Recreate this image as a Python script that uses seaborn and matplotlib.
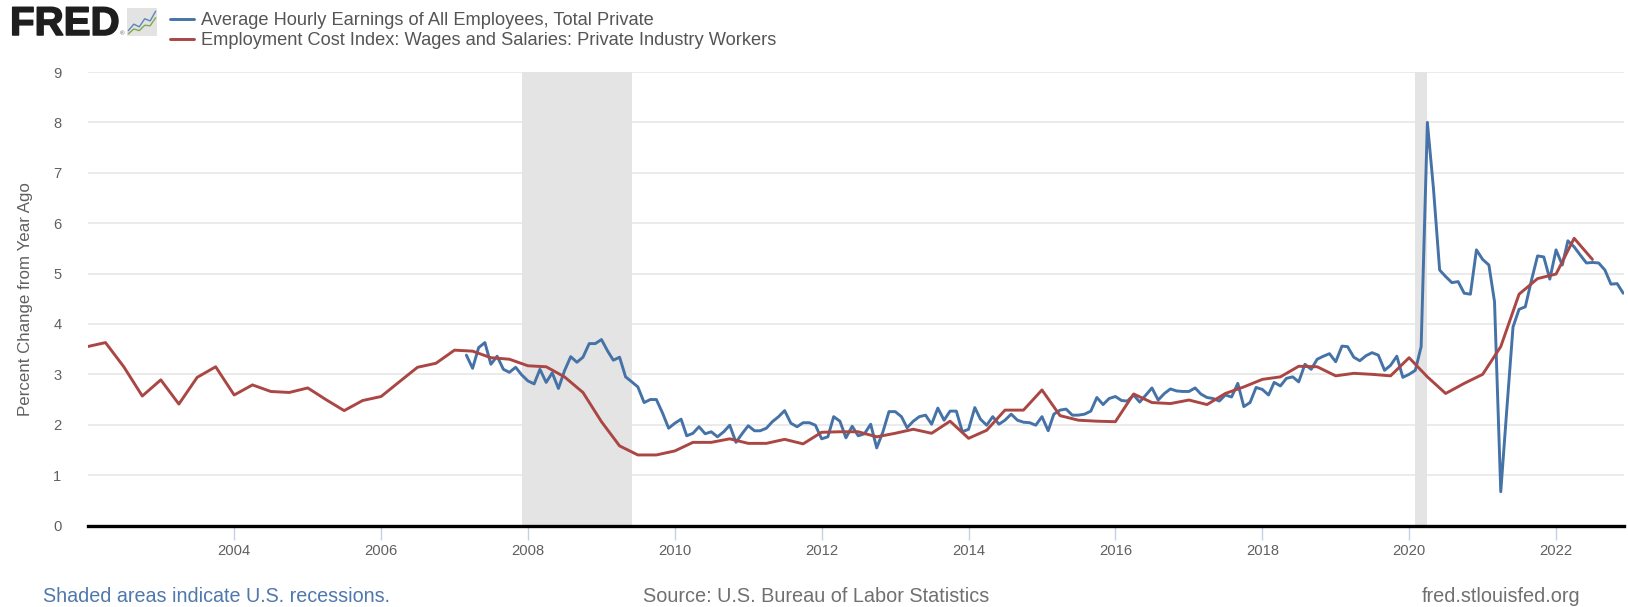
import numpy as np
import pandas as pd
import matplotlib
matplotlib.use("Agg")
import matplotlib.pyplot as plt
import matplotlib.dates as mdates
import matplotlib.patheffects as pe
import seaborn as sns

W, H = 1628, 607

earnings = [
    3.38, 3.12, 3.53, 3.63, 3.20, 3.36, 3.10, 3.04, 3.14, 2.99,
    2.87, 2.81, 3.10, 2.84, 3.03, 2.72, 3.07, 3.35, 3.24, 3.34, 3.61, 3.61,
    3.69, 3.46, 3.28, 3.34, 2.95, 2.85, 2.75, 2.44, 2.50, 2.50, 2.23, 1.93,
    2.03, 2.11, 1.78, 1.83, 1.96, 1.82, 1.86, 1.76, 1.86, 1.99, 1.65, 1.82,
    1.98, 1.88, 1.88, 1.93, 2.06, 2.16, 2.28, 2.03, 1.96, 2.04, 2.04, 1.99,
    1.72, 1.76, 2.16, 2.07, 1.74, 1.97, 1.78, 1.82, 2.01, 1.54, 1.86, 2.26,
    2.26, 2.16, 1.94, 2.07, 2.16, 2.19, 2.01, 2.33, 2.09, 2.27, 2.27, 1.86,
    1.91, 2.34, 2.11, 1.99, 2.16, 2.01, 2.09, 2.21, 2.09, 2.05, 2.04, 1.99,
    2.16, 1.88, 2.21, 2.29, 2.31, 2.19, 2.19, 2.21, 2.27, 2.54, 2.40, 2.52,
    2.56, 2.48, 2.47, 2.59, 2.45, 2.59, 2.73, 2.49, 2.62, 2.71, 2.67, 2.66,
    2.66, 2.73, 2.61, 2.54, 2.52, 2.47, 2.59, 2.55, 2.82, 2.36, 2.44, 2.74,
    2.70, 2.59, 2.84, 2.77, 2.92, 2.95, 2.85, 3.20, 3.10, 3.30, 3.36, 3.41,
    3.25, 3.56, 3.55, 3.34, 3.27, 3.37, 3.43, 3.38, 3.08, 3.18, 3.36, 2.94,
    3.00, 3.08, 3.55, 8.00, 6.70, 5.07, 4.94, 4.82, 4.84, 4.61, 4.59, 5.47,
    5.28, 5.17, 4.44, 0.67, 2.30, 3.94, 4.29, 4.34, 4.87, 5.35, 5.33, 4.89,
    5.47, 5.17, 5.65, 5.53, 5.37, 5.21, 5.22, 5.21, 5.07, 4.79, 4.80, 4.61,
]
cost_index = [
    3.55, 3.63, 3.15, 2.57, 2.89, 2.41, 2.94, 3.15, 2.59, 2.79, 2.66, 2.64,
    2.73, 2.50, 2.28, 2.48, 2.56, 2.85, 3.14, 3.22, 3.48, 3.46, 3.33, 3.30,
    3.17, 3.15, 2.95, 2.64, 2.06, 1.58, 1.40, 1.40, 1.48, 1.65, 1.65, 1.72,
    1.63, 1.63, 1.71, 1.62, 1.85, 1.86, 1.86, 1.76, 1.83, 1.91, 1.83, 2.07,
    1.73, 1.89, 2.29, 2.29, 2.69, 2.18, 2.09, 2.07, 2.06, 2.61, 2.44, 2.42,
    2.49, 2.40, 2.62, 2.75, 2.90, 2.95, 3.16, 3.15, 2.97, 3.02, 3.00, 2.97,
    3.33, 2.95, 2.62, 2.82, 3.00, 3.55, 4.59, 4.90, 4.99, 5.70, 5.28,
]
recessions = [("2007-12-01", "2009-06-01"), ("2020-02-01", "2020-04-01")]
year_ticks = list(range(2004, 2023, 2))
y_ticks = list(range(0, 10))
name_a = "Average Hourly Earnings of All Employees, Total Private"
name_b = "Employment Cost Index: Wages and Salaries: Private Industry Workers"
logo_blue = [1, 2.2, 1.7, 3.2, 2.8, 4.6]
logo_green = [0.4, 1.3, 1.0, 2.0, 1.9, 3.4]

df_a = pd.DataFrame({"date": pd.date_range("2007-03-01", periods=len(earnings), freq="MS"), "v": earnings})
df_b = pd.DataFrame({"date": pd.date_range("2002-01-01", periods=len(cost_index), freq="QS"), "v": cost_index})

sns.set_theme(style="white")
plt.rcParams["font.family"] = ["Liberation Sans", "DejaVu Sans"]

BLUE, RED = "#4572A7", "#AA4643"
fig = plt.figure(figsize=(W / 100, H / 100), dpi=100, facecolor="white")
ax = fig.add_axes([88 / W, 1 - 525.5 / H, (1624 - 88) / W, (525.5 - 72) / H])

for a, b in recessions:
    ax.axvspan(pd.Timestamp(a), pd.Timestamp(b), color="#e4e4e4", lw=0, zorder=1.5)
sns.lineplot(data=df_a, x="date", y="v", ax=ax, color=BLUE, lw=2.1, zorder=3, label=name_a, legend=False)
sns.lineplot(data=df_b, x="date", y="v", ax=ax, color=RED, lw=2.1, zorder=4, label=name_b, legend=False)

ax.set_xlim(pd.Timestamp("2002-01-04"), pd.Timestamp("2022-12-05"))
ax.set_ylim(0, 9)
ax.set_yticks(y_ticks)
ax.set_xticks([pd.Timestamp(f"{y}-01-01") for y in year_ticks])
ax.xaxis.set_major_formatter(mdates.DateFormatter("%Y"))
ax.grid(axis="y", color="#e6e6e6", lw=1.1)
ax.grid(axis="x", visible=False)
ax.set_axisbelow(True)
for s in ["top", "right", "left"]:
    ax.spines[s].set_visible(False)
ax.spines["bottom"].set_color("black")
ax.spines["bottom"].set_linewidth(2.4)
ax.spines["bottom"].set_zorder(5)
ax.tick_params(axis="x", which="major", direction="out", length=10, width=1.0, color="#c4d0e8",
               labelsize=10.6, labelcolor="#606060", pad=3.5, bottom=True, labelbottom=True)
ax.tick_params(axis="y", length=0, labelsize=10.6, labelcolor="#606060", pad=19)
ax.set_xlabel("")
ax.set_ylabel("")
fig.text(26 / W, 1 - 299 / H, "Percent Change from Year Ago", rotation=90, ha="center", va="center",
         fontsize=12.2, color="#606060")

handles, labels = ax.get_legend_handles_labels()
leg = fig.legend(handles, labels, loc="upper left", bbox_to_anchor=(170 / W, 1 - 12 / H), frameon=False,
                 fontsize=13.15, labelcolor="#555555", handlelength=1.31, handletextpad=0.39,
                 labelspacing=0.18, borderpad=0, borderaxespad=0)

logo_text = fig.text(10 / W, 1 - 35 / H, "FRED", fontsize=29, fontweight="bold", color="#1e1e1e",
                     ha="left", va="baseline")
logo_text.set_path_effects([pe.withStroke(linewidth=1.1, foreground="#1e1e1e")])
fig.text(120 / W, 1 - 35 / H, "®", fontsize=4.5, color="#555555", ha="left", va="baseline")
logo = fig.add_axes([127 / W, 1 - 36 / H, 30 / W, 28 / H], facecolor="#e3e3e3")
logo.plot(logo_blue, color="#5b86b5", lw=1.0)
logo.plot(logo_green, color="#7fa84f", lw=1.0)
logo.set_xticks([]); logo.set_yticks([])
logo.set_ylim(0, 5.2)
for s in logo.spines.values():
    s.set_visible(False)

fig.text(43 / W, 1 - 597 / H, "Shaded areas indicate U.S. recessions.", fontsize=14.2, color="#4f78ad", ha="left", va="center")
fig.text(816 / W, 1 - 597 / H, "Source: U.S. Bureau of Labor Statistics", fontsize=14.3, color="#707070", ha="center", va="center")
fig.text(1580 / W, 1 - 597 / H, "fred.stlouisfed.org", fontsize=14.3, color="#707070", ha="right", va="center")

fig.savefig("out.png", dpi=100, facecolor="white")
